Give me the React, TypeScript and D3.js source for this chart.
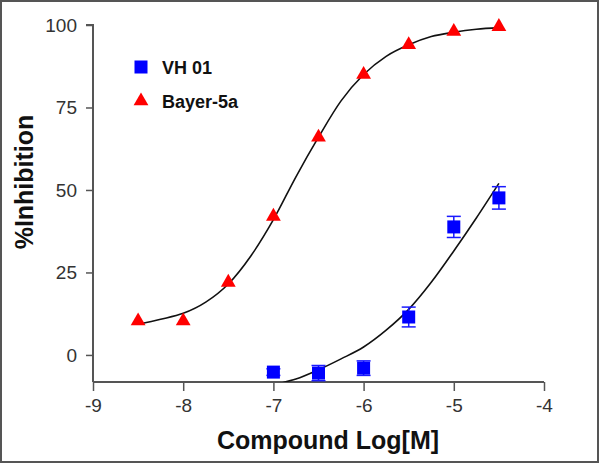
import React, { useEffect, useRef } from 'react';
import * as d3 from 'd3';

// measured points
const logConc = [-8.5, -8, -7.5, -7, -6.5, -6, -5.5, -5, -4.5];
const bayerValues = [10.3, 10.3, 22, 42, 66, 85, 94, 98, 99.5];

const vhConc = [-7, -6.5, -6, -5.5, -5, -4.5];
const vhValues = [-5.2, -5.5, -4, 11.5, 38.8, 47.6];
const vhErrors = [1, 2.3, 2.2, 3, 3.2, 3.4];

// fitted curves
const bayerFitX = [-8.5, -8.25, -8, -7.75, -7.5, -7.25, -7, -6.75, -6.5, -6.25, -6, -5.75, -5.5, -5.25, -5, -4.75, -4.5];
const bayerFitY = [9.3, 10.8, 12.6, 16, 21.5, 30, 41, 54, 66, 77, 85, 90.5, 94, 96.5, 97.8, 98.7, 99.2];
const vhFitX = [-6.9, -6.75, -6.5, -6.25, -6, -5.75, -5.5, -5.25, -5, -4.75, -4.5];
const vhFitY = [-8.4, -7.3, -4.5, -1.2, 2.4, 7.5, 13.8, 22, 31.5, 41.5, 52];

const xTicks = [-9, -8, -7, -6, -5, -4];
const yTicks = [0, 25, 50, 75, 100];

const seriesNames = ['VH 01', 'Bayer-5a'];
const FONT = 'Arial, "Liberation Sans", Helvetica, sans-serif';

export default function App() {
    const svgRef = useRef<SVGSVGElement>(null);

    useEffect(() => {
        const svg = d3.select(svgRef.current);
        svg.selectAll('*').remove();

        const x = d3.scaleLinear().domain([-9, -4]).range([93, 544]);
        const y = d3.scaleLinear().domain([-8.2, 100]).range([382, 25]);

        svg.append('rect')
            .attr('x', 1).attr('y', 1)
            .attr('width', 597).attr('height', 461)
            .attr('fill', '#fff')
            .attr('stroke', '#555')
            .attr('stroke-width', 2);

        svg.append('clipPath').attr('id', 'plot-clip')
            .append('rect')
            .attr('x', 93).attr('y', 0)
            .attr('width', 460).attr('height', 382);

        // axes
        const xAxis = d3.axisBottom(x).tickValues(xTicks).tickSize(9).tickPadding(8)
            .tickFormat(d => String(d));
        const yAxis = d3.axisLeft(y).tickValues(yTicks).tickSize(7).tickPadding(9);

        const xg = svg.append('g').attr('transform', 'translate(0,382)').call(xAxis);
        const yg = svg.append('g').attr('transform', 'translate(93,0)').call(yAxis);

        [xg, yg].forEach(g => {
            g.select('.domain').attr('stroke', '#555').attr('stroke-width', 2);
            g.selectAll('.tick line').attr('stroke', '#555').attr('stroke-width', 1.5);
            g.selectAll('.tick text')
                .attr('fill', '#333')
                .attr('font-size', 19)
                .attr('font-family', FONT);
        });
        // y axis line goes down to the x axis
        yg.select('.domain').attr('d', `M-7,${y(100)}H0V382`);
        xg.select('.domain').attr('d', `M${x(-9)},0H${x(-4)}`);

        // axis titles
        svg.append('text')
            .attr('x', 328).attr('y', 449)
            .attr('text-anchor', 'middle')
            .attr('font-family', FONT)
            .attr('font-weight', 'bold')
            .attr('font-size', 25)
            .attr('fill', '#111')
            .text('Compound Log[M]');

        svg.append('text')
            .attr('transform', 'translate(33,182) rotate(-90)')
            .attr('text-anchor', 'middle')
            .attr('font-family', FONT)
            .attr('font-weight', 'bold')
            .attr('font-size', 25)
            .attr('fill', '#111')
            .text('%Inhibition');

        const plot = svg.append('g').attr('clip-path', 'url(#plot-clip)');

        const line = d3.line<[number, number]>()
            .x(d => x(d[0]))
            .y(d => y(d[1]))
            .curve(d3.curveMonotoneX);

        plot.append('path')
            .datum(bayerFitX.map((v, i) => [v, bayerFitY[i]] as [number, number]))
            .attr('d', line)
            .attr('fill', 'none')
            .attr('stroke', '#111')
            .attr('stroke-width', 1.6);

        plot.append('path')
            .datum(vhFitX.map((v, i) => [v, vhFitY[i]] as [number, number]))
            .attr('d', line)
            .attr('fill', 'none')
            .attr('stroke', '#111')
            .attr('stroke-width', 1.6);

        // error bars
        const vh = vhConc.map((c, i) => ({ c, v: vhValues[i], e: vhErrors[i] }));
        const eb = svg.append('g').attr('stroke', '#1a1aff').attr('stroke-width', 1.5);
        vh.forEach(d => {
            const cx = x(d.c);
            eb.append('line').attr('x1', cx).attr('x2', cx)
                .attr('y1', y(d.v + d.e)).attr('y2', y(d.v - d.e));
            [d.v + d.e, d.v - d.e].forEach(val => {
                eb.append('line').attr('x1', cx - 7).attr('x2', cx + 7)
                    .attr('y1', y(val)).attr('y2', y(val));
            });
        });

        svg.append('g').selectAll('rect')
            .data(vh)
            .join('rect')
            .attr('x', d => x(d.c) - 6.5)
            .attr('y', d => y(d.v) - 6.5)
            .attr('width', 13).attr('height', 13)
            .attr('fill', '#0000ff');

        const tri = d3.symbol().type(d3.symbolTriangle).size(95);
        svg.append('g').selectAll('path')
            .data(logConc.map((c, i) => ({ c, v: bayerValues[i] })))
            .join('path')
            .attr('d', tri)
            .attr('transform', d => `translate(${x(d.c)},${y(d.v)})`)
            .attr('fill', '#ff0000');

        // legend
        const legend = svg.append('g').attr('transform', 'translate(141,67)');
        legend.append('rect')
            .attr('x', -6.5).attr('y', -6.5)
            .attr('width', 13).attr('height', 13)
            .attr('fill', '#0000ff');
        legend.append('path')
            .attr('d', tri)
            .attr('transform', 'translate(0,34)')
            .attr('fill', '#ff0000');
        legend.selectAll('text')
            .data(seriesNames)
            .join('text')
            .attr('x', 21)
            .attr('y', (d, i) => i * 34 + 7)
            .attr('font-family', FONT)
            .attr('font-weight', 'bold')
            .attr('font-size', 18)
            .attr('fill', '#111')
            .text(d => d);
    }, []);

    return (
        <svg ref={svgRef} width={600} height={464}
            style={{ position: 'absolute', left: 0, top: 0 }} />
    );
}
